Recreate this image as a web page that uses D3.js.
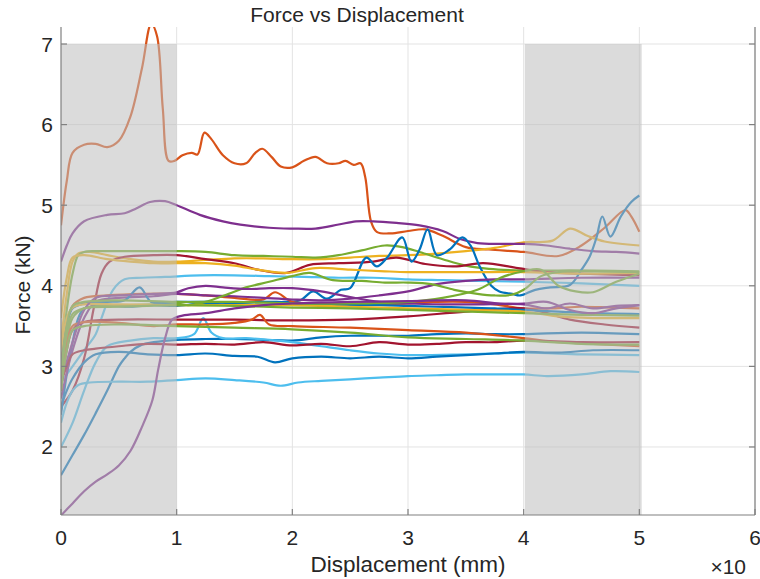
<!DOCTYPE html>
<html>
<head>
<meta charset="utf-8">
<script src="https://cdn.jsdelivr.net/npm/d3@7"></script>
<style>
    html, body { margin: 0; padding: 0; background: #fff; }
    svg { display: block; font-family: "Liberation Sans", Arial, sans-serif; }
</style>
</head>
<body>
<svg id="chart" width="760" height="579"></svg>
<script>
// x in mm, y in kN
var xTicks = [0, 10, 20, 30, 40, 50, 60];
var yTicks = [2, 3, 4, 5, 6, 7];
var shadeBands = [[0, 10], [40.1, 50.2]];
var shadeTop = 7;

var colors = {
    B: "#0072BD", O: "#D95319", Y: "#EDB120", P: "#7E2F8E",
    G: "#77AC30", L: "#4DBEEE", R: "#A2142F"
};

var sOrangeBig = [[0,4.75],[0.5,5.3],[1,5.65],[2,5.75],[3,5.76],[4,5.72],[5,5.8],[6,6.1],[7,6.7],[7.8,7.25],[8.3,7.1],[8.8,6.2],[9.3,5.55],[9.8,5.55],[10.5,5.62],[11.3,5.65],[11.8,5.63],[12.4,5.9],[13,5.82],[14,5.62],[15,5.52],[16,5.52],[16.8,5.65],[17.4,5.7],[18.2,5.6],[19,5.48],[20,5.47],[21,5.55],[22,5.6],[23,5.52],[24,5.52],[24.6,5.55],[25.3,5.5],[25.9,5.52],[26.3,5.35],[26.8,4.8],[27.3,4.67],[28.5,4.65],[30,4.68],[31.5,4.7],[33,4.62],[35,4.48],[37,4.45],[40,4.42],[43,4.37],[45,4.5],[47,4.72],[48.8,4.94],[49.3,4.86],[50,4.67]];
var sPurpleBig = [[0,4.3],[0.5,4.5],[1,4.65],[2,4.8],[4,4.88],[5.5,4.9],[6.5,4.96],[7.7,5.04],[9,5.05],[10,5.0],[12,4.88],[14,4.8],[15.5,4.76],[18,4.72],[20,4.71],[22,4.71],[24,4.76],[25.5,4.8],[27,4.8],[29,4.78],[31,4.75],[33,4.68],[34.5,4.58],[36,4.53],[38,4.52],[40,4.52],[42,4.5],[44,4.46],[46,4.43],[48,4.42],[50,4.4]];
var sBlueOsc = [[0,2.4],[0.5,2.9],[1,3.3],[1.5,3.6],[2,3.72],[4,3.75],[6,3.74],[8,3.76],[10,3.75],[12,3.78],[14,3.77],[16,3.79],[18,3.8],[19.5,3.8],[20.7,3.82],[21.8,3.93],[23,3.84],[24.2,3.95],[25,3.97],[26.4,4.35],[27.3,4.24],[28.2,4.35],[29.5,4.6],[30.3,4.3],[31,4.45],[31.7,4.7],[32.5,4.38],[33.6,4.45],[34.7,4.6],[35.4,4.5],[36.2,4.24],[37.2,4.0],[37.9,3.93],[39,3.9],[39.7,3.88],[41,3.95],[42.3,3.98],[44,4.01],[45,4.2],[45.7,4.36],[46.3,4.6],[46.8,4.86],[47.5,4.61],[48.4,4.86],[49.3,5.04],[50,5.12]];
var sGreenUp = [[0,3.0],[0.5,3.7],[1,4.15],[1.5,4.38],[2,4.42],[3,4.43],[5,4.43],[8,4.43],[10,4.43],[12.5,4.42],[15,4.38],[17.5,4.37],[20,4.36],[22,4.35],[24,4.38],[26,4.44],[28,4.5],[29.5,4.48],[31,4.42],[33,4.33],[35,4.25],[37,4.21],[40,4.19],[43,4.19],[46,4.19],[50,4.18]];
var sYellowUp = [[0,3.3],[0.5,3.9],[1,4.3],[1.5,4.4],[2.5,4.42],[4,4.38],[6,4.33],[8,4.3],[10,4.3],[12.5,4.32],[15,4.34],[17.5,4.34],[20,4.33],[22.5,4.33],[25,4.35],[27.5,4.37],[30,4.38],[32.5,4.4],[35,4.43],[37.5,4.47],[40,4.54],[42.5,4.56],[44,4.71],[45.5,4.62],[47,4.55],[50,4.5]];
var sRedUp = [[0,2.5],[1,2.7],[2,3.1],[2.8,3.7],[3.5,4.15],[4.2,4.3],[5.5,4.36],[8,4.38],[10,4.38],[12.5,4.33],[15,4.28],[17,4.2],[19.5,4.16],[21.5,4.26],[24,4.28],[27,4.3],[29,4.35],[31.5,4.27],[34,4.24],[36.5,4.28],[39.5,4.22],[42,4.17],[45,4.15],[50,4.13]];
var sYellowLow = [[0,3.6],[0.5,4.1],[1,4.35],[2,4.38],[4,4.33],[6,4.3],[8,4.28],[10,4.28],[12.5,4.28],[15,4.25],[17,4.2],[19.5,4.16],[22,4.22],[25,4.2],[28,4.18],[30,4.17],[33,4.17],[36,4.17],[40,4.17],[45,4.15],[50,4.16]];
var sLightUp = [[0,2.8],[1,3.0],[2,3.2],[3,3.4],[3.5,3.6],[4.5,3.95],[5.5,4.08],[7,4.1],[9,4.11],[12,4.13],[15,4.13],[18,4.12],[21,4.11],[24,4.1],[27,4.1],[30,4.08],[33,4.07],[36,4.06],[40,4.05],[45,4.03],[50,4.0]];
var sGreen2 = [[0,2.7],[0.5,3.3],[1,3.6],[2,3.72],[4,3.75],[6,3.76],[8,3.77],[10,3.78],[11,3.76],[12.5,3.8],[14.5,3.9],[16,3.98],[18,4.05],[20,4.12],[21.5,4.16],[23.5,4.07],[26,4.06],[28,4.04],[30,4.04],[32,4.02],[34,3.95],[36,3.9],[37.5,3.88],[39,3.89],[40,3.95],[41.5,4.12],[43,4.17],[46,4.18],[50,4.17]];
var sGreen3 = [[0,2.9],[0.5,3.5],[1,3.75],[2,3.8],[5,3.82],[10,3.8],[15,3.8],[20,3.78],[25,3.78],[30,3.8],[33,3.85],[36,3.95],[38,4.1],[40,4.18],[41.5,4.2],[43,4.0],[44.5,3.93],[46,3.92],[48,4.05],[50,4.15]];
var sPurpleMid = [[0,2.6],[1,3.2],[2,3.6],[3,3.8],[5,3.85],[8,3.87],[10,3.9],[12.5,3.88],[15,3.87],[17.5,3.85],[20,3.83],[22.5,3.82],[25,3.84],[27.5,3.88],[30,3.93],[32.5,4.02],[35,4.06],[37.5,4.08],[40,4.08],[45,4.1],[50,4.1]];
var sPurpleHump = [[0,2.8],[1,3.3],[2,3.7],[3,3.85],[5,3.88],[8,3.9],[10,3.92],[11,3.97],[12.5,4.0],[14,3.98],[16,3.96],[18,3.97],[20,3.97],[22.5,3.93],[25,3.86],[27.5,3.8],[30,3.78],[33,3.77],[36,3.77],[40,3.77],[42,3.72],[44,3.78],[46,3.72],[48,3.75],[50,3.76]];
var sOrange39 = [[0,3.0],[0.5,3.5],[1,3.75],[2,3.85],[4,3.88],[7,3.9],[10,3.9],[12.5,3.88],[15,3.85],[17.5,3.83],[18.5,3.92],[20,3.8],[22.5,3.78],[25,3.76],[27.5,3.77],[30,3.78],[32.5,3.8],[35,3.8],[37.5,3.77],[40,3.72],[42.5,3.72],[45,3.74],[47.5,3.73],[50,3.72]];
var sBlue38 = [[0,2.9],[0.5,3.5],[1,3.72],[2,3.78],[4,3.8],[5.5,3.82],[6.8,3.98],[7.8,3.8],[10,3.8],[12.5,3.8],[15,3.79],[17.5,3.8],[20,3.78],[22.5,3.77],[25,3.76],[27.5,3.76],[30,3.75],[32.5,3.74],[35,3.73],[37.5,3.72],[40,3.7],[43,3.68],[46,3.66],[50,3.65]];
var sYellow375 = [[0,3.2],[0.5,3.6],[1,3.73],[2,3.77],[5,3.77],[10,3.76],[15,3.76],[20,3.76],[25,3.74],[30,3.72],[35,3.7],[40,3.68],[43,3.62],[46,3.6],[50,3.6]];
var sGreen372 = [[0,2.9],[0.5,3.4],[1,3.65],[2,3.72],[5,3.74],[10,3.76],[15,3.75],[20,3.73],[25,3.72],[30,3.7],[35,3.68],[40,3.66],[45,3.64],[50,3.63]];
var sPurpleLow = [[0,1.15],[1,1.3],[2,1.45],[3,1.57],[4,1.66],[5,1.77],[6,1.95],[7,2.25],[7.9,2.58],[8.4,2.96],[9,3.35],[9.6,3.58],[10.5,3.63],[12.5,3.66],[15,3.72],[17.5,3.76],[20,3.78],[25,3.8],[30,3.81],[35,3.82],[38,3.78],[40,3.78],[42,3.8],[44,3.7],[46,3.66],[48,3.72],[50,3.76]];
var sRed358 = [[0,2.7],[0.5,3.2],[1,3.45],[2,3.55],[5,3.58],[10,3.58],[15,3.58],[20,3.57],[25,3.58],[30,3.62],[35,3.68],[40,3.72],[42,3.66],[44,3.58],[47,3.52],[50,3.48]];
var sOrangeBump = [[0,2.8],[0.5,3.3],[1,3.5],[2,3.55],[5,3.54],[8,3.5],[10,3.52],[12.5,3.52],[15,3.54],[16.5,3.58],[17.2,3.64],[18,3.52],[20,3.5],[25,3.48],[30,3.45],[35,3.42],[38,3.38],[40,3.35],[43,3.3],[46,3.28],[50,3.25]];
var sGreen349 = [[0,2.7],[0.5,3.2],[1,3.45],[2,3.5],[5,3.52],[10,3.5],[15,3.48],[20,3.46],[25,3.42],[30,3.36],[35,3.34],[40,3.32],[45,3.28],[50,3.27]];
var sLight2 = [[0,2.0],[1,2.3],[2,2.7],[3,3.05],[4,3.25],[6,3.32],[8,3.35],[10,3.35],[11.5,3.4],[12.3,3.6],[13,3.42],[14,3.35],[16,3.35],[18,3.33],[20,3.3],[22.5,3.25],[25,3.2],[27.5,3.16],[30,3.14],[35,3.15],[40,3.17],[45,3.15],[50,3.14]];
var sBlueLow = [[0,1.65],[1,1.9],[2,2.15],[3,2.42],[4,2.7],[5,3.0],[5.5,3.1],[6,3.18],[7,3.27],[8,3.3],[10,3.33],[12.5,3.34],[15,3.34],[17.5,3.33],[20,3.32],[22.5,3.36],[25,3.38],[27.5,3.38],[30,3.38],[32.5,3.4],[35,3.41],[37.5,3.4],[40,3.4],[45,3.42],[50,3.4]];
var sLightLow = [[0,2.3],[0.5,2.55],[1,2.7],[1.5,2.77],[2.5,2.8],[5,2.81],[7.5,2.81],[10,2.83],[12.5,2.85],[15,2.83],[17.5,2.8],[19,2.76],[20.5,2.8],[22.5,2.82],[25,2.84],[27.5,2.86],[30,2.88],[32.5,2.89],[35,2.9],[37.5,2.9],[40,2.9],[42,2.88],[45,2.9],[47.5,2.94],[50,2.93]];
var sBlue314 = [[0,2.5],[0.5,2.7],[1,2.85],[2,3.05],[3,3.15],[5,3.18],[7.5,3.15],[10,3.14],[12.5,3.16],[15,3.13],[17,3.12],[18.5,3.05],[20,3.1],[22.5,3.12],[25,3.1],[27.5,3.12],[30,3.1],[32.5,3.12],[35,3.14],[37.5,3.16],[40,3.18],[43,3.17],[46,3.2],[50,3.2]];
var sRed327 = [[0,2.8],[0.5,3.0],[1,3.15],[2,3.2],[3,3.22],[5,3.25],[7.5,3.28],[10,3.27],[12.5,3.28],[15,3.27],[17.5,3.3],[20,3.26],[22.5,3.28],[25,3.25],[27.5,3.3],[30,3.27],[32.5,3.28],[35,3.3],[37.5,3.3],[40,3.32],[45,3.3],[50,3.3]];

var seriesList = [
    {c: "B", d: sBlueLow}, {c: "O", d: sOrangeBig}, {c: "Y", d: sYellowUp}, {c: "P", d: sPurpleBig},
    {c: "G", d: sGreenUp}, {c: "L", d: sLightUp}, {c: "R", d: sRedUp}, {c: "B", d: sBlueOsc},
    {c: "O", d: sOrange39}, {c: "Y", d: sYellowLow}, {c: "P", d: sPurpleMid}, {c: "G", d: sGreen2},
    {c: "L", d: sLight2}, {c: "R", d: sRed358}, {c: "B", d: sBlue38}, {c: "O", d: sOrangeBump},
    {c: "Y", d: sYellow375}, {c: "P", d: sPurpleHump}, {c: "G", d: sGreen3}, {c: "L", d: sLightLow},
    {c: "R", d: sRed327}, {c: "B", d: sBlue314}, {c: "G", d: sGreen372}, {c: "P", d: sPurpleLow},
    {c: "G", d: sGreen349}
];

(function () {
    "use strict";

    var _config = {
        left: 61, right: 755, top: 27, bottom: 515,
        xDomain: [0, 60], yDomain: [1.156, 7.211],
        axisColor: "#808080", gridColor: "#e3e3e3", textColor: "#262626"
    };

    var svg = d3.select("#chart");
    var x = d3.scaleLinear().domain(_config.xDomain).range([_config.left, _config.right]);
    var y = d3.scaleLinear().domain(_config.yDomain).range([_config.bottom, _config.top]);

    svg.append("defs").append("clipPath").attr("id", "plotClip")
        .append("rect")
        .attr("x", _config.left).attr("y", _config.top)
        .attr("width", _config.right - _config.left)
        .attr("height", _config.bottom - _config.top);

    // grid
    var grid = svg.append("g").attr("class", "grid");
    grid.selectAll("line.gx").data(xTicks.slice(1)).enter().append("line")
        .attr("x1", function (d) { return x(d); }).attr("x2", function (d) { return x(d); })
        .attr("y1", _config.top).attr("y2", _config.bottom)
        .attr("stroke", _config.gridColor).attr("stroke-width", 1);
    grid.selectAll("line.gy").data(yTicks).enter().append("line")
        .attr("x1", _config.left).attr("x2", _config.right)
        .attr("y1", function (d) { return y(d); }).attr("y2", function (d) { return y(d); })
        .attr("stroke", _config.gridColor).attr("stroke-width", 1);

    // data lines
    var line = d3.line()
        .x(function (d) { return x(d[0]); })
        .y(function (d) { return y(d[1]); })
        .curve(d3.curveCatmullRom.alpha(0.5));

    svg.append("g").attr("clip-path", "url(#plotClip)")
        .selectAll("path").data(seriesList).enter().append("path")
        .attr("d", function (s) { return line(s.d); })
        .attr("fill", "none")
        .attr("stroke", function (s) { return colors[s.c]; })
        .attr("stroke-width", 2.2)
        .attr("stroke-linejoin", "round");

    // shaded regions on top
    svg.append("g").selectAll("rect").data(shadeBands).enter().append("rect")
        .attr("x", function (d) { return x(d[0]); })
        .attr("width", function (d) { return x(d[1]) - x(d[0]); })
        .attr("y", y(shadeTop))
        .attr("height", _config.bottom - y(shadeTop))
        .attr("fill", "#bdbdbd").attr("fill-opacity", 0.55);

    // axes lines
    var ax = svg.append("g").attr("stroke", _config.axisColor).attr("stroke-width", 1.2);
    ax.append("line").attr("x1", _config.left).attr("x2", _config.left).attr("y1", _config.top).attr("y2", _config.bottom);
    ax.append("line").attr("x1", _config.right).attr("x2", _config.right).attr("y1", _config.top).attr("y2", _config.bottom);
    ax.append("line").attr("x1", _config.left).attr("x2", _config.right).attr("y1", _config.bottom).attr("y2", _config.bottom);

    // ticks inside
    ax.selectAll("line.tx").data(xTicks).enter().append("line")
        .attr("x1", function (d) { return x(d); }).attr("x2", function (d) { return x(d); })
        .attr("y1", _config.bottom).attr("y2", _config.bottom - 6);
    ax.selectAll("line.tyl").data(yTicks).enter().append("line")
        .attr("x1", _config.left).attr("x2", _config.left + 6)
        .attr("y1", function (d) { return y(d); }).attr("y2", function (d) { return y(d); });
    ax.selectAll("line.tyr").data(yTicks).enter().append("line")
        .attr("x1", _config.right).attr("x2", _config.right - 6)
        .attr("y1", function (d) { return y(d); }).attr("y2", function (d) { return y(d); });

    // tick labels
    var txt = svg.append("g").attr("fill", _config.textColor);
    txt.selectAll("text.xl").data(xTicks).enter().append("text")
        .attr("x", function (d) { return x(d); }).attr("y", 545)
        .attr("text-anchor", "middle").attr("font-size", 21)
        .text(function (d) { return d / 10; });
    txt.selectAll("text.yl").data(yTicks).enter().append("text")
        .attr("x", 53).attr("y", function (d) { return y(d) + 7.5; })
        .attr("text-anchor", "end").attr("font-size", 21)
        .text(function (d) { return d; });

    // titles
    txt.append("text").attr("x", 357).attr("y", 22).attr("text-anchor", "middle")
        .attr("font-size", 21).text("Force vs Displacement");
    txt.append("text").attr("x", 408).attr("y", 572).attr("text-anchor", "middle")
        .attr("font-size", 22.5).text("Displacement (mm)");
    txt.append("text").attr("transform", "translate(30,285) rotate(-90)").attr("text-anchor", "middle")
        .attr("font-size", 21).text("Force (kN)");
    txt.append("text").attr("x", 746).attr("y", 574).attr("text-anchor", "end")
        .attr("font-size", 21).text("×10");
})();
</script>
</body>
</html>
